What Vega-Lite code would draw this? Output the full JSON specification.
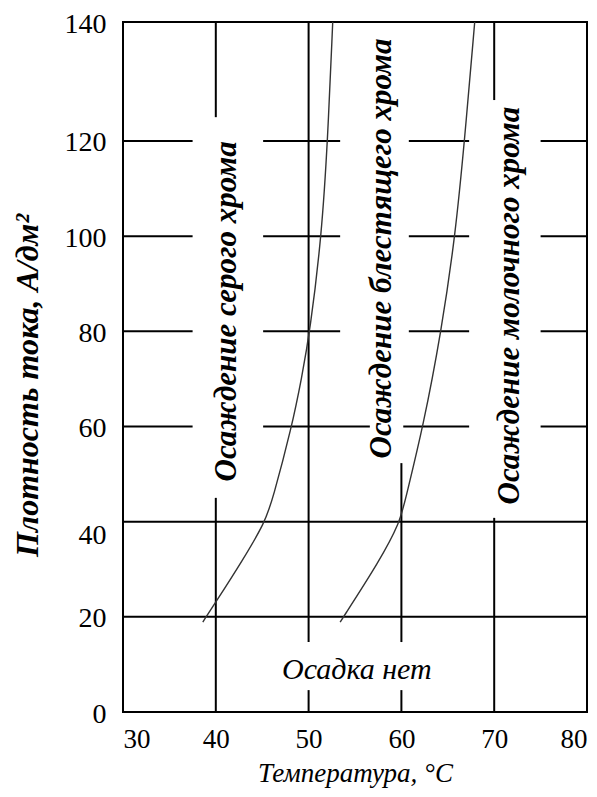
{
  "$schema": "https://vega.github.io/schema/vega-lite/v6.json",
  "width": 464,
  "height": 690,
  "autosize": "none",
  "padding": {"left": 123, "top": 22, "right": 10, "bottom": 85},
  "background": "white",
  "config": {
    "view": {"stroke": "black", "strokeWidth": 2}
  },
  "datasets": {
    "grid": [
      {"x1": 40, "x2": 40, "y1": 125, "y2": 145},
      {"x1": 40, "x2": 40, "y1": 0, "y2": 45},
      {"x1": 50, "x2": 50, "y1": 14.7, "y2": 145},
      {"x1": 50, "x2": 50, "y1": 0, "y2": 4.6},
      {"x1": 60, "x2": 60, "y1": 14.7, "y2": 52.3},
      {"x1": 60, "x2": 60, "y1": 0, "y2": 4.6},
      {"x1": 70, "x2": 70, "y1": 128.6, "y2": 145},
      {"x1": 70, "x2": 70, "y1": 0, "y2": 40.8},
      {"x1": 30, "x2": 37.5, "y1": 120, "y2": 120},
      {"x1": 45.1, "x2": 53.4, "y1": 120, "y2": 120},
      {"x1": 60.8, "x2": 67.3, "y1": 120, "y2": 120},
      {"x1": 75.0, "x2": 80, "y1": 120, "y2": 120},
      {"x1": 30, "x2": 37.5, "y1": 100, "y2": 100},
      {"x1": 45.1, "x2": 53.4, "y1": 100, "y2": 100},
      {"x1": 60.8, "x2": 67.3, "y1": 100, "y2": 100},
      {"x1": 75.0, "x2": 80, "y1": 100, "y2": 100},
      {"x1": 30, "x2": 37.5, "y1": 80, "y2": 80},
      {"x1": 45.1, "x2": 53.4, "y1": 80, "y2": 80},
      {"x1": 60.8, "x2": 67.3, "y1": 80, "y2": 80},
      {"x1": 75.0, "x2": 80, "y1": 80, "y2": 80},
      {"x1": 30, "x2": 37.5, "y1": 60, "y2": 60},
      {"x1": 45.1, "x2": 56.6, "y1": 60, "y2": 60},
      {"x1": 60.2, "x2": 67.3, "y1": 60, "y2": 60},
      {"x1": 75.0, "x2": 80, "y1": 60, "y2": 60},
      {"x1": 30, "x2": 80, "y1": 40, "y2": 40},
      {"x1": 30, "x2": 80, "y1": 20, "y2": 20}
    ],
    "curves": [
      {"curve": "a", "t": 38.6, "j": 18.9},
      {"curve": "a", "t": 40.0, "j": 23.1},
      {"curve": "a", "t": 42.9, "j": 31.9},
      {"curve": "a", "t": 45.3, "j": 39.9},
      {"curve": "a", "t": 46.1, "j": 44.5},
      {"curve": "a", "t": 48.2, "j": 60},
      {"curve": "a", "t": 49.25, "j": 70.2},
      {"curve": "a", "t": 50.15, "j": 80},
      {"curve": "a", "t": 51.4, "j": 100},
      {"curve": "a", "t": 52.05, "j": 120},
      {"curve": "a", "t": 52.6, "j": 145},
      {"curve": "b", "t": 53.4, "j": 18.9},
      {"curve": "b", "t": 57.7, "j": 31.9},
      {"curve": "b", "t": 59.85, "j": 39.9},
      {"curve": "b", "t": 60.4, "j": 44.5},
      {"curve": "b", "t": 62.35, "j": 60},
      {"curve": "b", "t": 64.3, "j": 80},
      {"curve": "b", "t": 65.8, "j": 100},
      {"curve": "b", "t": 66.8, "j": 120},
      {"curve": "b", "t": 67.9, "j": 145}
    ],
    "regions": [
      {"t": 41.26, "j": 84.2, "label": "Осаждение серого хрома"},
      {"t": 57.96, "j": 97.4, "label": "Осаждение блестящего хрома"},
      {"t": 71.7, "j": 85.4, "label": "Осаждение молочного хрома"}
    ],
    "none": [
      {"t": 55.2, "j": 8.8, "label": "Осадка нет"}
    ]
  },
  "layer": [
    {
      "data": {"name": "grid"},
      "mark": {"type": "rule", "color": "black", "strokeWidth": 2},
      "encoding": {
        "x": {
          "field": "x1", "type": "quantitative",
          "scale": {"domain": [30, 80], "nice": false, "zero": false},
          "axis": {
            "domain": false, "ticks": false, "grid": false,
            "values": [30, 40, 50, 60, 70, 80],
            "labelOverlap": false,
            "labelFlush": true,
            "labelPadding": 14,
            "labelFont": "Liberation Serif",
            "labelFontSize": 27,
            "labelColor": "black",
            "title": "Температура,  °C",
            "titleFont": "Liberation Serif",
            "titleFontSize": 27,
            "titleColor": "black",
            "titleFontStyle": "italic",
            "titleFontWeight": "normal",
            "titlePadding": 8
          }
        },
        "x2": {"field": "x2"},
        "y": {
          "field": "y1", "type": "quantitative",
          "scale": {"domain": [0, 145], "nice": false},
          "axis": {
            "domain": false, "ticks": false, "grid": false,
            "values": [0, 20, 40, 60, 80, 100, 120, 145],
            "labelExpr": "datum.value == 145 ? '140' : datum.label",
            "labelOverlap": false,
            "labelFlush": false,
            "labelPadding": 17,
            "labelFont": "Liberation Serif",
            "labelFontSize": 28,
            "labelColor": "black",
            "labelOffset": {"condition": {"test": "datum.value == 40", "value": 14}, "value": 2},
            "title": "Плотность тока, А/дм²",
            "titleFont": "Liberation Serif",
            "titleColor": "black",
            "titleFontStyle": "italic",
            "titleFontWeight": "bold",
            "titleFontSize": 32,
            "titleY": 363,
            "titleX": -96,
            "titleBaseline": "middle"
          }
        },
        "y2": {"field": "y2"}
      }
    },
    {
      "data": {"name": "curves"},
      "mark": {"type": "line", "interpolate": "basis", "color": "#333333", "strokeWidth": 1.4},
      "encoding": {
        "x": {"field": "t", "type": "quantitative"},
        "y": {"field": "j", "type": "quantitative"},
        "detail": {"field": "curve"},
        "order": {"field": "j"}
      }
    },
    {
      "data": {"name": "regions"},
      "mark": {"type": "text", "angle": 270, "align": "center", "baseline": "middle", "font": "Liberation Serif", "fontStyle": "italic", "fontWeight": "bold", "fontSize": 31, "color": "black"},
      "encoding": {
        "x": {"field": "t", "type": "quantitative"},
        "y": {"field": "j", "type": "quantitative"},
        "text": {"field": "label"}
      }
    },
    {
      "data": {"name": "none"},
      "mark": {"type": "text", "align": "center", "baseline": "middle", "font": "Liberation Serif", "fontStyle": "italic", "fontSize": 30, "color": "black"},
      "encoding": {
        "x": {"field": "t", "type": "quantitative"},
        "y": {"field": "j", "type": "quantitative"},
        "text": {"field": "label"}
      }
    }
  ]
}
